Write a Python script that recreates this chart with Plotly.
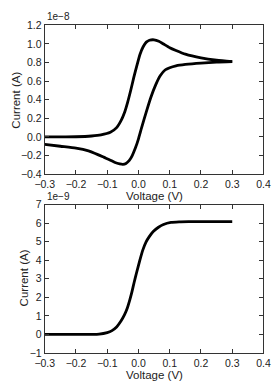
import plotly.graph_objects as go

# Top panel: cyclic voltammogram (current in units of 1e-8 A)
cv_fwd_v = [-0.3, -0.25, -0.2, -0.15, -0.12, -0.09, -0.07, -0.055, -0.045, -0.035, -0.025, -0.015,
            -0.005, 0.005, 0.015, 0.025, 0.035, 0.05, 0.065, 0.08, 0.1, 0.12, 0.15, 0.2, 0.25, 0.3]
cv_fwd_i = [0.0, 0.0, 0.002, 0.01, 0.022, 0.05, 0.1, 0.18, 0.26, 0.37, 0.5, 0.64,
            0.77, 0.89, 0.97, 1.02, 1.04, 1.045, 1.03, 1.0, 0.96, 0.93, 0.89, 0.85, 0.825, 0.81]
cv_rev_v = [0.3, 0.25, 0.2, 0.15, 0.12, 0.1, 0.085, 0.07, 0.055, 0.04, 0.025, 0.01, 0.0,
            -0.01, -0.02, -0.03, -0.04, -0.05, -0.06, -0.075, -0.09, -0.11, -0.13, -0.16, -0.2, -0.25, -0.3]
cv_rev_i = [0.81, 0.805, 0.795, 0.78, 0.765, 0.745, 0.72, 0.66, 0.56, 0.43, 0.27, 0.1, -0.02,
            -0.12, -0.2, -0.255, -0.285, -0.295, -0.29, -0.275, -0.25, -0.22, -0.19, -0.15, -0.12, -0.1, -0.08]

# Bottom panel: steady-state voltammogram (current in units of 1e-9 A)
ss_v = [-0.3, -0.25, -0.2, -0.15, -0.126, -0.1, -0.086, -0.07, -0.056, -0.045, -0.036, -0.028,
        -0.021, -0.014, -0.006, 0.004, 0.014, 0.024, 0.034, 0.048, 0.064, 0.08, 0.104, 0.13, 0.16, 0.2, 0.25, 0.3]
ss_i = [0.0, 0.0, 0.0, 0.005, 0.02, 0.1, 0.19, 0.4, 0.72, 1.05, 1.41, 1.85,
        2.29, 2.8, 3.34, 3.98, 4.56, 4.98, 5.26, 5.56, 5.78, 5.93, 6.04, 6.07, 6.08, 6.08, 6.08, 6.08]

top_yticks = [-0.4, -0.2, 0.0, 0.2, 0.4, 0.6, 0.8, 1.0, 1.2]
bot_yticks = [-1, 0, 1, 2, 3, 4, 5, 6, 7]
xticks = [-0.3, -0.2, -0.1, 0.0, 0.1, 0.2, 0.3, 0.4]

W, H = 278, 388
FONT = "Liberation Sans, Arial, sans-serif"
line = dict(color="black", width=2.8, shape="spline", smoothing=0.6)

fig = go.Figure()
fig.add_trace(go.Scatter(x=cv_fwd_v, y=cv_fwd_i, mode="lines", line=line, xaxis="x", yaxis="y"))
fig.add_trace(go.Scatter(x=cv_rev_v, y=cv_rev_i, mode="lines", line=line, xaxis="x", yaxis="y"))
fig.add_trace(go.Scatter(x=ss_v, y=ss_i, mode="lines", line=line, xaxis="x2", yaxis="y2"))

xd = [37 / W, 270 / W]
ax_common = dict(showline=True, linecolor="#333", linewidth=1, mirror="ticks", ticks="inside",
                 ticklen=4, tickcolor="#333", tickwidth=1, showgrid=False, zeroline=False,
                 tickfont=dict(family=FONT, size=10.5, color="#222"))

fig.update_layout(
    width=W, height=H, margin=dict(l=0, r=0, t=0, b=0),
    paper_bgcolor="white", plot_bgcolor="white", showlegend=False,
    xaxis=dict(domain=xd, range=[-0.3, 0.4], tickvals=xticks, tickformat=".1f", anchor="y", **ax_common),
    yaxis=dict(domain=[1 - 173.5 / H, 1 - 20 / H], range=[-0.4, 1.2], tickvals=top_yticks,
               tickformat=".1f", anchor="x", **ax_common),
    xaxis2=dict(domain=xd, range=[-0.3, 0.4], tickvals=xticks, tickformat=".1f", anchor="y2", **ax_common),
    yaxis2=dict(domain=[1 - 358 / H, 1 - 205 / H], range=[-1, 7], tickvals=bot_yticks,
                tickformat="d", anchor="x2", **ax_common),
)

tick_font = dict(family=FONT, size=10, color="#222")
title_font = dict(family=FONT, size=11.5, color="#222")
annots = [
    dict(text="1e−8", x=37 / W, y=1 - 19 / H, xanchor="left", yanchor="bottom", font=tick_font),
    dict(text="1e−9", x=37 / W, y=1 - 204 / H, xanchor="left", yanchor="bottom", font=tick_font),
    dict(text="Voltage (V)", x=153.5 / W, y=1 - 196 / H, xanchor="center", yanchor="middle", font=title_font),
    dict(text="Voltage (V)", x=153.5 / W, y=1 - 381 / H, xanchor="center", yanchor="middle", font=title_font),
    dict(text="Current (A)", x=6 / W, y=1 - 97 / H, xanchor="center", yanchor="middle", textangle=-90,
         font=title_font),
    dict(text="Current (A)", x=15 / W, y=1 - 281 / H, xanchor="center", yanchor="middle", textangle=-90,
         font=title_font),
]
for a in annots:
    fig.add_annotation(xref="paper", yref="paper", showarrow=False, **a)

fig.write_html("out.html")
